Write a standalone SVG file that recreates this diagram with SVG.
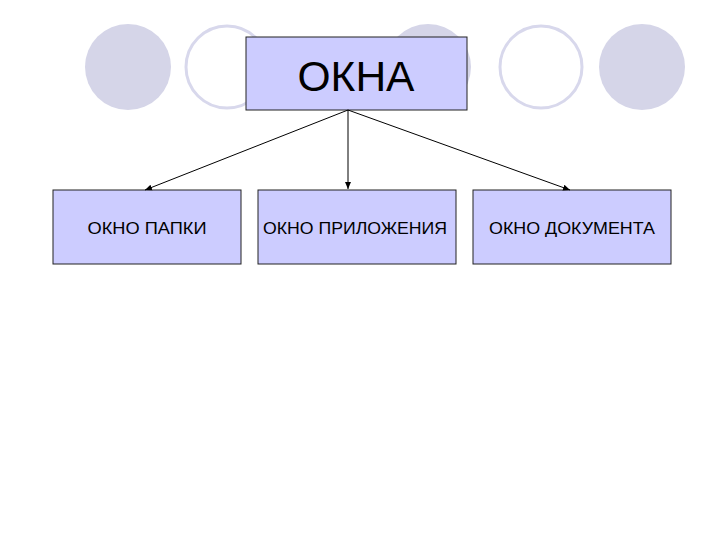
<svg xmlns="http://www.w3.org/2000/svg" width="720" height="540" viewBox="0 0 720 540">
<style>
.f{fill:#d5d5e8}
.o{fill:#fff;stroke:#d8d8ec;stroke-width:3}
.box{fill:#ccccff;stroke:#222;stroke-width:1}
.t{font-family:"Liberation Sans",Arial,sans-serif;fill:#000;text-anchor:middle}
.c{stroke:#000;stroke-width:1;fill:none;marker-end:url(#a)}
</style>
<defs><marker id="a" markerWidth="8" markerHeight="8" refX="7" refY="4" orient="auto" markerUnits="userSpaceOnUse"><path d="M0,1L7,4L0,7z" fill="#000"/></marker></defs>
<rect width="720" height="540" fill="#fff"/>
<g id="bg">
<circle class="f" cx="128" cy="67" r="43"/>
<circle class="o" cx="227" cy="67" r="41"/>
<circle class="f" cx="428" cy="67" r="43"/>
<circle class="o" cx="541" cy="67" r="41"/>
<circle class="f" cx="642" cy="67" r="43"/>
</g>
<g id="root"><rect class="box" x="246" y="37" width="221" height="73"/><text class="t" x="356" y="91" font-size="42" textLength="117" lengthAdjust="spacingAndGlyphs">ОКНА</text></g>
<g id="n1"><rect class="box" x="53" y="190" width="188" height="74"/><text class="t" x="147" y="234" font-size="16" textLength="119" lengthAdjust="spacingAndGlyphs">ОКНО ПАПКИ</text></g>
<g id="n2"><rect class="box" x="258" y="190" width="198" height="74"/><text class="t" x="355" y="234" font-size="16" textLength="184" lengthAdjust="spacingAndGlyphs">ОКНО ПРИЛОЖЕНИЯ</text></g>
<g id="n3"><rect class="box" x="473" y="190" width="198" height="74"/><text class="t" x="572" y="234" font-size="16" textLength="166" lengthAdjust="spacingAndGlyphs">ОКНО ДОКУМЕНТА</text></g>
<g id="connectors">
<line class="c" x1="348" y1="110" x2="145" y2="190"/>
<line class="c" x1="348" y1="110" x2="348" y2="189"/>
<line class="c" x1="348" y1="110" x2="570" y2="190"/>
</g>
</svg>
